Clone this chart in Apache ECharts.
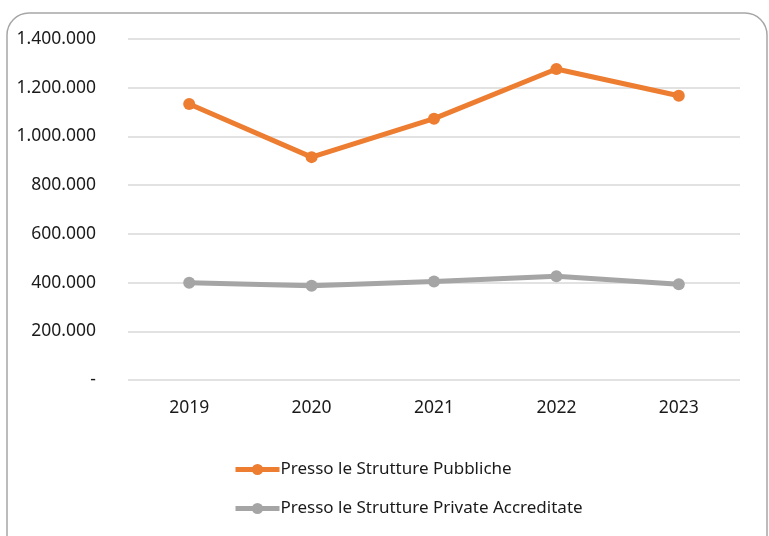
<!DOCTYPE html>
<html><head><meta charset="utf-8">
<script src="https://cdn.jsdelivr.net/npm/echarts@6/dist/echarts.min.js"></script>
<style>html,body{margin:0;padding:0;background:#fff}#c{width:769px;height:536px}</style>
</head><body><div id="c"></div>
<script>
const categories = ['2019','2020','2021','2022','2023'];
const pubbliche = [1133000, 915000, 1073000, 1277000, 1167000];
const private_ = [399000, 387000, 404000, 426000, 393000];
const seriesNames = ['Presso le Strutture Pubbliche','Presso le Strutture Private Accreditate'];
const colors = ['#ED7D31','#A5A5A5'];
const FONT = 'Noto Sans';
function fmt(v){ if(v===0) return '-'; return String(v).replace(/\B(?=(\d{3})+(?!\d))/g,'.'); }
const chart = echarts.init(document.getElementById('c'));
chart.setOption({
  animation:false,
  textStyle:{fontFamily:FONT},
  graphic:[{type:'rect',shape:{x:7,y:13,width:760,height:560,r:22},style:{fill:'none',stroke:'#a6a6a6',lineWidth:1.5},z:-1}],
  grid:{left:128,right:29,top:39,bottom:156},
  xAxis:{type:'category',data:categories,boundaryGap:true,
    axisLine:{show:false},axisTick:{show:false},
    axisLabel:{color:'#1a1a1a',fontSize:17.5,fontFamily:FONT,margin:19}},
  yAxis:{type:'value',min:0,max:1400000,interval:200000,
    axisLine:{show:false},axisTick:{show:false},
    splitLine:{lineStyle:{color:'#d9d9d9',width:1.5}},
    axisLabel:{color:'#1a1a1a',fontSize:17.5,fontFamily:FONT,margin:32,formatter:fmt}},
  legend:{orient:'vertical',left:228,top:456,itemGap:22,itemWidth:44,itemHeight:14,
    lineStyle:{width:5},
    textStyle:{color:'#1a1a1a',fontSize:17,fontFamily:FONT,padding:[0,0,0,-4]},
    data:seriesNames},
  series:[
    {name:seriesNames[0],type:'line',data:pubbliche,color:colors[0],symbol:'circle',symbolSize:12,
      lineStyle:{width:5,color:colors[0]},itemStyle:{color:colors[0]}},
    {name:seriesNames[1],type:'line',data:private_,color:colors[1],symbol:'circle',symbolSize:12,
      lineStyle:{width:5,color:colors[1]},itemStyle:{color:colors[1]}}
  ]
});
</script></body></html>
